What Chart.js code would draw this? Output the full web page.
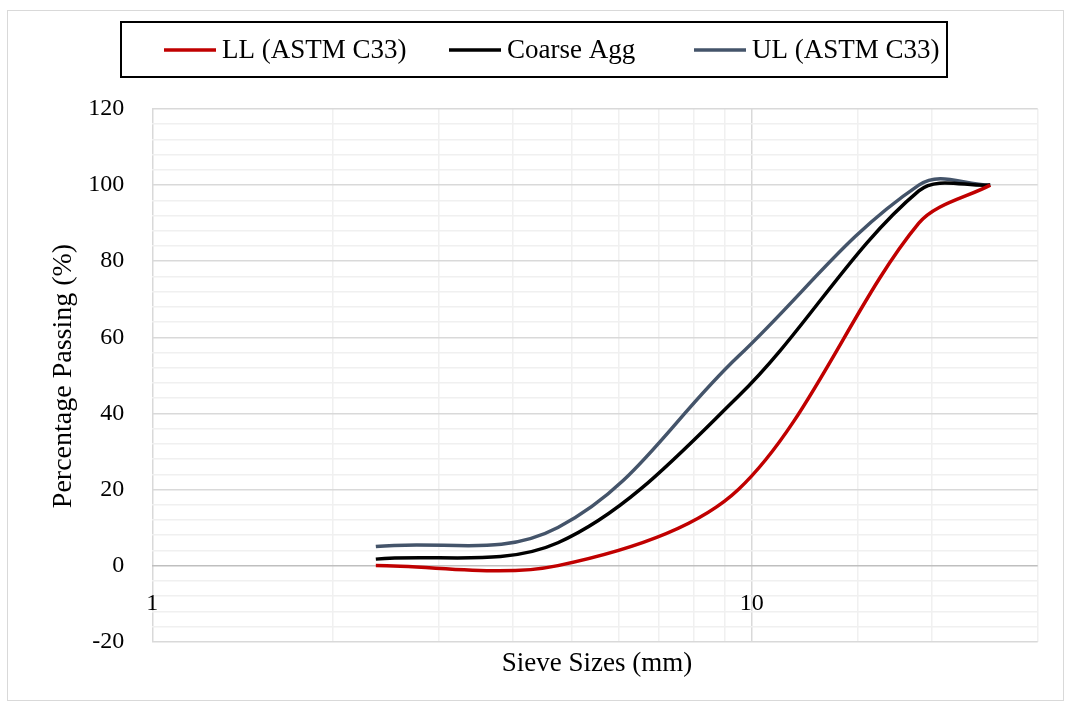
<!DOCTYPE html>
<html>
<head>
<meta charset="utf-8">
<script src="https://cdn.jsdelivr.net/npm/chart.js@4/dist/chart.umd.min.js"></script>
<style>
  html, body { margin: 0; padding: 0; background: #ffffff; }
  #wrap { width: 1071px; height: 708px; position: relative; }
</style>
</head>
<body>
<div id="wrap"><canvas id="grading" width="1071" height="708"></canvas></div>
<script>
// Sieve sizes (mm) and percentage passing for each grading curve
const sieveSizes    = [2.36, 4.75, 9.5, 19, 25];
const llPassing     = [0, 0, 20, 90, 100];
const coarsePassing = [1.7, 6, 44.5, 98.5, 100];
const ulPassing     = [5, 10, 55, 100, 100];

// Labelled values on the axes
const xTickLabels = [1, 10];
const yTickLabels = [-20, 0, 20, 40, 60, 80, 100, 120];

const FONT = '"Liberation Serif", "Times New Roman", serif';

const toPoints = (vals) => sieveSizes.map((s, i) => ({ x: s, y: vals[i] }));

const series = [
  { label: 'LL (ASTM C33)', data: toPoints(llPassing), borderColor: '#C00000', tension: 0.32 },
  { label: 'Coarse Agg', data: toPoints(coarsePassing), borderColor: '#000000', tension: 0.34 },
  { label: 'UL (ASTM C33)', data: toPoints(ulPassing), borderColor: '#44546A', tension: 0.38 }
];

// Frame, legend box, x labels and axis titles
const decorations = {
  id: 'decorations',
  afterDraw(chart) {
    const { ctx, scales: { x, y } } = chart;
    ctx.save();

    // outer chart border
    ctx.strokeStyle = '#d9d9d9';
    ctx.lineWidth = 1;
    ctx.strokeRect(7.5, 10.5, 1056, 690);

    // legend
    ctx.strokeStyle = '#000000';
    ctx.lineWidth = 2;
    ctx.strokeRect(121, 22, 826, 55);
    const legendX = [222, 507, 752];
    ctx.font = '27px ' + FONT;
    ctx.textBaseline = 'middle';
    ctx.textAlign = 'left';
    chart.data.datasets.forEach((ds, i) => {
      ctx.strokeStyle = ds.borderColor;
      ctx.lineWidth = 3.5;
      ctx.beginPath();
      ctx.moveTo(legendX[i] - 58, 50);
      ctx.lineTo(legendX[i] - 6, 50);
      ctx.stroke();
      ctx.fillStyle = '#000000';
      ctx.fillText(ds.label, legendX[i], 51);
    });

    // x tick labels sit just below the value axis
    ctx.font = '24px ' + FONT;
    ctx.textAlign = 'center';
    ctx.textBaseline = 'middle';
    xTickLabels.forEach(v => {
      ctx.fillText(String(v), x.getPixelForValue(v), y.getPixelForValue(-10));
    });

    // axis titles
    ctx.font = '27px ' + FONT;
    ctx.fillText('Sieve Sizes (mm)', (x.left + x.right) / 2 + 2, 664);
    ctx.font = '28px ' + FONT;
    ctx.translate(64, 376);
    ctx.rotate(-Math.PI / 2);
    ctx.fillText('Percentage Passing (%)', 0, 0);

    ctx.restore();
  }
};

new Chart(document.getElementById('grading'), {
  type: 'scatter',
  data: {
    datasets: series.map(s => ({
      label: s.label,
      data: s.data,
      showLine: true,
      borderColor: s.borderColor,
      backgroundColor: s.borderColor,
      borderWidth: 3.5,
      pointRadius: 0,
      pointHoverRadius: 0,
      tension: s.tension,
      fill: false
    }))
  },
  options: {
    responsive: false,
    animation: false,
    events: [],
    layout: { padding: { left: 0, top: 109, right: 33.3, bottom: 66.3 } },
    plugins: { legend: { display: false }, tooltip: { enabled: false } },
    scales: {
      x: {
        type: 'logarithmic',
        min: 1,
        max: 30,
        border: { display: false },
        ticks: { display: false, autoSkip: false },
        grid: {
          drawTicks: false,
          lineWidth: 1.5,
          color: (c) => (c.tick && (c.tick.value === 1 || c.tick.value === 10)) ? '#d9d9d9' : '#f0f0f0'
        },
        afterFit: (scale) => { scale.height = 0; }
      },
      y: {
        min: -20,
        max: 120,
        border: { display: false },
        ticks: {
          stepSize: 4,
          autoSkip: false,
          padding: 28,
          color: '#000000',
          font: { family: FONT, size: 24 },
          callback: (v) => yTickLabels.includes(v) ? String(v) : ''
        },
        grid: {
          drawTicks: false,
          lineWidth: 1.5,
          color: (c) => {
            const v = c.tick ? c.tick.value : null;
            if (v === 0) return '#bfbfbf';
            return (v % 20 === 0) ? '#d9d9d9' : '#f0f0f0';
          }
        },
        afterFit: (scale) => { scale.width = 152.3; }
      }
    }
  },
  plugins: [decorations]
});
</script>
</body>
</html>
